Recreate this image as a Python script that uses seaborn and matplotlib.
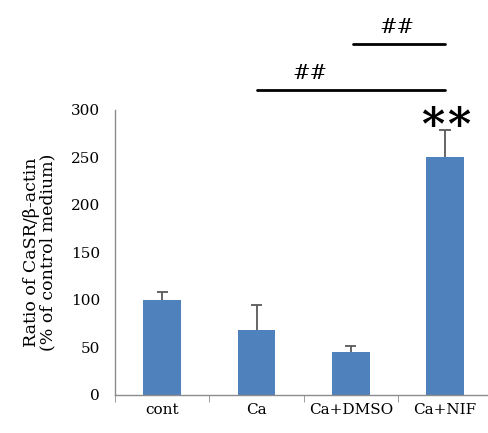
import matplotlib
matplotlib.use('Agg')
import matplotlib.pyplot as plt
import seaborn as sns
import numpy as np
import pandas as pd

# данные
groups = ['cont', 'Ca', 'Ca+DMSO', 'Ca+NIF']
ratio = [100, 68, 45, 250]
sem = [8, 27, 6, 29]

sns.set_style('white')
plt.rcParams['font.family'] = ['DejaVu Serif']
plt.rcParams['text.color'] = 'black'
plt.rcParams['axes.labelcolor'] = 'black'
plt.rcParams['xtick.labelcolor'] = 'black'
plt.rcParams['ytick.labelcolor'] = 'black'

df = pd.DataFrame({'group': groups, 'ratio': ratio})

fig = plt.figure(figsize=(4.88, 4.33), dpi=100)
ax = fig.add_axes([0.236, 0.088, 0.7725, 0.658])

sns.barplot(data=df, x='group', y='ratio', color='#4F81BD', saturation=1,
            width=0.4, errorbar=None, linewidth=0, ax=ax)

# только верхние усы
x = np.arange(len(groups))
tops = np.array(ratio) + np.array(sem)
ax.vlines(x, ratio, tops, color='#595959', lw=1.3)
ax.hlines(tops, x - 0.06, x + 0.06, color='#595959', lw=1.3)

ax.set_xlim(-0.5, 3.5)
ax.set_ylim(0, 300)
ax.set_yticks(range(0, 301, 50))
ax.set_xlabel('')
ax.set_ylabel('Ratio of CaSR/β-actin\n(% of control medium)', fontsize=12.5,
              labelpad=10, linespacing=1.0)

for side in ['top', 'right']:
    ax.spines[side].set_visible(False)
for side in ['left', 'bottom']:
    ax.spines[side].set_color('#8c8c8c')
    ax.spines[side].set_linewidth(1)

# метки по оси x — между категориями
ax.set_xticks(x)
ax.set_xticklabels(groups, fontsize=11)
ax.tick_params(axis='x', length=0, pad=6)
ax.set_xticks(np.arange(-0.5, 4.0, 1), minor=True)
ax.tick_params(axis='x', which='minor', length=5, color='#8c8c8c', direction='out')
ax.tick_params(axis='y', length=5, color='#8c8c8c', direction='out', labelsize=11, pad=6)
ax.xaxis.set_tick_params(which='minor', bottom=True)

# значимость
for dx in (-0.135, 0.15):
    ax.text(3 + dx, 259, '*', ha='center', va='bottom', fontsize=32,
            fontweight='bold', clip_on=False)
ax.plot([1, 3], [321, 321], color='black', lw=2, clip_on=False)
ax.text(1.57, 328, '##', ha='center', va='bottom', fontsize=15, clip_on=False)
ax.plot([2.02, 3.0], [370, 370], color='black', lw=2, clip_on=False)
ax.text(2.49, 377, '##', ha='center', va='bottom', fontsize=15, clip_on=False)

plt.savefig('out.png', dpi=100)
plt.close()
